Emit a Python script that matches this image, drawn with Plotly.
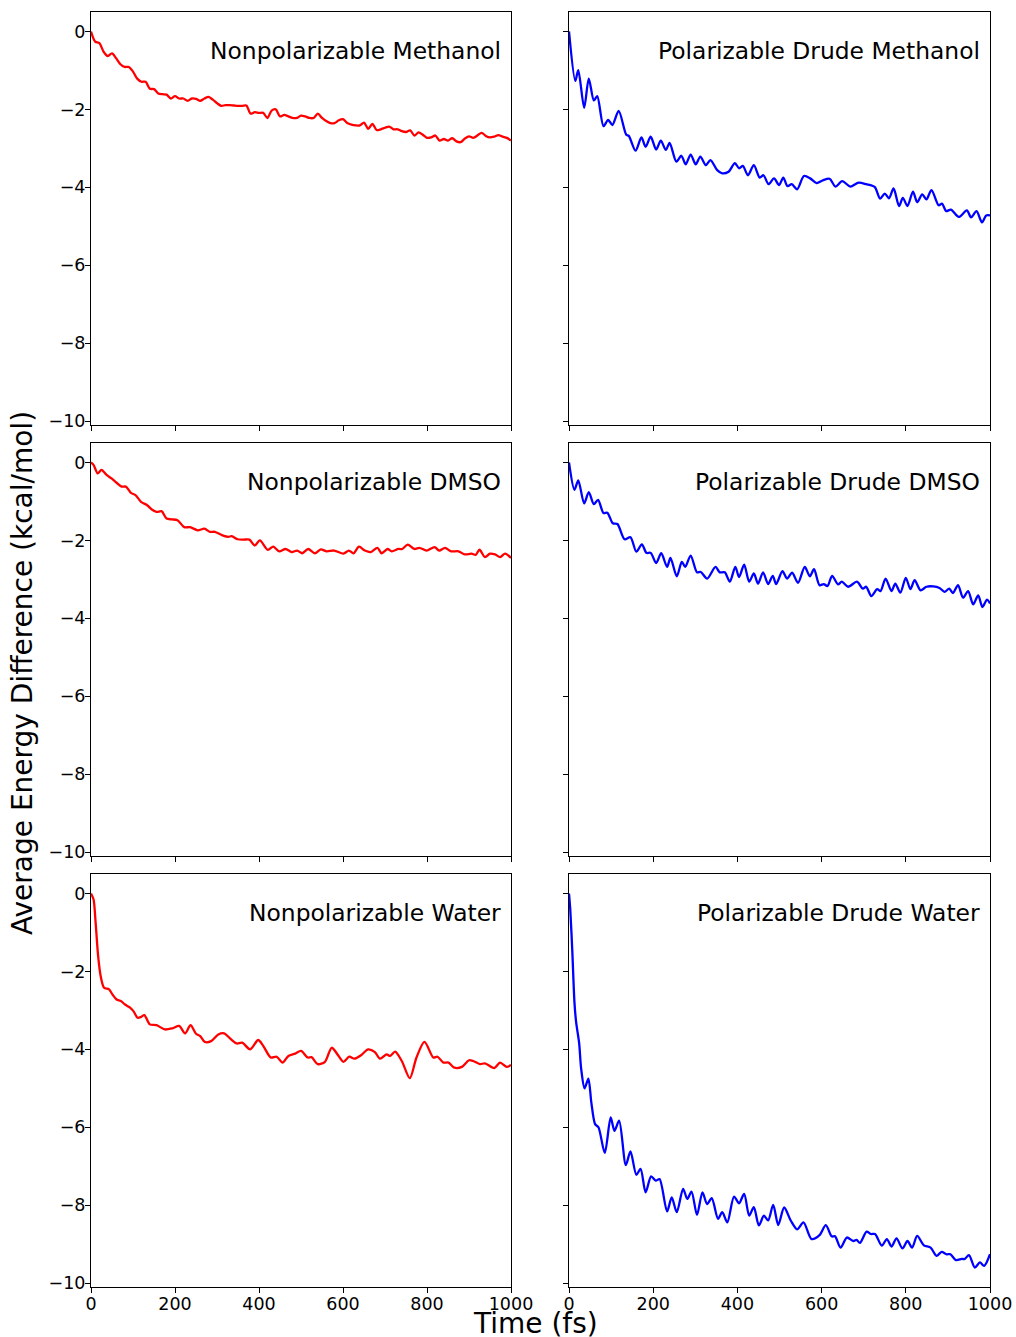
import plotly.graph_objects as go

# ---------------- data ----------------
t_np_meoh = list(range(0, 1001, 10))
e_np_meoh = [0, -0.26, -0.30, -0.52, -0.63, -0.56, -0.69, -0.84, -0.91, -0.91,
             -1.03, -1.21, -1.29, -1.29, -1.47, -1.48, -1.59, -1.61, -1.62, -1.72,
             -1.66, -1.72, -1.72, -1.78, -1.72, -1.73, -1.78, -1.72, -1.68, -1.75,
             -1.84, -1.91, -1.89, -1.89, -1.90, -1.91, -1.91, -1.90, -2.11, -2.07,
             -2.09, -2.09, -2.22, -2.03, -2.00, -2.18, -2.14, -2.18, -2.22, -2.22,
             -2.16, -2.18, -2.22, -2.22, -2.11, -2.22, -2.30, -2.35, -2.35, -2.28,
             -2.25, -2.35, -2.39, -2.41, -2.41, -2.34, -2.50, -2.37, -2.53, -2.51,
             -2.47, -2.44, -2.51, -2.51, -2.56, -2.58, -2.54, -2.67, -2.59, -2.65,
             -2.73, -2.72, -2.67, -2.80, -2.76, -2.80, -2.74, -2.82, -2.84, -2.75,
             -2.69, -2.73, -2.67, -2.60, -2.68, -2.72, -2.70, -2.66, -2.70, -2.73, -2.80]

t_pd_meoh = [0, 15, 22, 36, 47, 59, 67, 82, 93, 103, 118, 136, 142, 158, 172, 182, 194, 207,
             218, 230, 239, 255, 267, 277, 289, 301, 312, 325, 336, 352, 364, 379, 394, 404,
             413, 425, 439, 453, 462, 474, 487, 499, 509, 519, 529, 542, 558, 573, 588, 603,
             619, 633, 649, 668, 688, 706, 726, 739, 750, 760, 771, 784, 793, 804, 817, 827,
             839, 849, 861, 878, 886, 896, 907, 926, 945, 955, 968, 981, 991, 1000]
e_pd_meoh = [0, -1.27, -0.99, -1.96, -1.21, -1.77, -1.66, -2.43, -2.27, -2.40, -2.04, -2.65,
             -2.68, -3.06, -2.72, -2.96, -2.70, -3.03, -2.80, -3.04, -2.86, -3.34, -3.19, -3.41,
             -3.16, -3.41, -3.21, -3.43, -3.30, -3.56, -3.64, -3.60, -3.38, -3.51, -3.45, -3.69,
             -3.43, -3.75, -3.69, -3.92, -3.77, -3.94, -3.75, -3.97, -3.92, -4.05, -3.71, -3.77,
             -3.89, -3.82, -3.78, -3.98, -3.84, -3.98, -3.88, -3.92, -3.99, -4.29, -4.16, -4.28,
             -4.03, -4.48, -4.27, -4.48, -4.11, -4.38, -4.18, -4.31, -4.07, -4.46, -4.42, -4.61,
             -4.57, -4.76, -4.59, -4.77, -4.61, -4.90, -4.72, -4.72]

t_np_dmso = [0, 6, 16, 25, 37, 49, 61, 73, 83, 95, 106, 119, 133, 144, 156, 168, 180, 192, 206,
             222, 236, 254, 270, 283, 295, 313, 327, 335, 349, 363, 377, 390, 402, 421, 434, 448,
             463, 478, 491, 503, 517, 533, 547, 561, 579, 601, 614, 625, 638, 652, 666, 682, 692,
             706, 716, 732, 741, 754, 770, 782, 799, 818, 829, 843, 857, 875, 890, 906, 916, 925,
             938, 950, 962, 974, 986, 1000]
e_np_dmso = [0, -0.06, -0.28, -0.19, -0.32, -0.41, -0.52, -0.62, -0.62, -0.78, -0.84, -1.01,
             -1.09, -1.20, -1.27, -1.25, -1.44, -1.46, -1.48, -1.66, -1.66, -1.74, -1.70, -1.78,
             -1.78, -1.87, -1.91, -1.89, -1.97, -1.98, -1.98, -2.13, -2.00, -2.24, -2.16, -2.28,
             -2.22, -2.30, -2.26, -2.33, -2.22, -2.33, -2.23, -2.28, -2.26, -2.34, -2.26, -2.33,
             -2.16, -2.26, -2.30, -2.19, -2.33, -2.22, -2.28, -2.22, -2.22, -2.11, -2.22, -2.19,
             -2.26, -2.17, -2.26, -2.19, -2.28, -2.28, -2.36, -2.34, -2.37, -2.24, -2.43, -2.34,
             -2.36, -2.43, -2.34, -2.45]

t_pd_dmso = [0, 13, 22, 36, 47, 59, 69, 82, 91, 104, 115, 132, 146, 160, 173, 184, 194, 207,
             219, 233, 241, 256, 268, 276, 289, 304, 313, 328, 348, 358, 370, 382, 395, 404, 416,
             428, 439, 449, 461, 473, 484, 492, 507, 518, 530, 544, 560, 572, 582, 595, 605, 614,
             625, 639, 648, 663, 684, 698, 706, 718, 732, 740, 752, 766, 775, 787, 800, 811, 821,
             835, 849, 865, 880, 892, 903, 912, 924, 936, 948, 960, 972, 982, 993, 1000]
e_pd_dmso = [0, -0.70, -0.46, -1.05, -0.76, -1.07, -0.96, -1.30, -1.29, -1.56, -1.58, -1.97,
             -1.92, -2.29, -2.10, -2.32, -2.32, -2.58, -2.33, -2.68, -2.45, -2.92, -2.55, -2.68,
             -2.39, -2.82, -2.81, -2.98, -2.68, -2.82, -2.82, -3.06, -2.68, -2.94, -2.62, -3.06,
             -2.85, -3.11, -2.82, -3.12, -2.91, -3.12, -2.79, -2.98, -2.83, -3.09, -2.68, -2.92,
             -2.74, -3.15, -3.12, -3.17, -2.91, -3.13, -3.06, -3.19, -3.06, -3.24, -3.19, -3.43,
             -3.25, -3.30, -2.98, -3.30, -3.11, -3.34, -2.96, -3.25, -3.02, -3.28, -3.19, -3.18,
             -3.22, -3.32, -3.24, -3.35, -3.15, -3.47, -3.30, -3.64, -3.41, -3.71, -3.52, -3.62]

t_np_water = [0, 6, 11, 17, 23, 31, 43, 51, 61, 71, 81, 93, 101, 111, 119, 127, 140, 156, 176,
              194, 210, 224, 237, 250, 260, 271, 286, 303, 317, 333, 347, 360, 379, 398, 410, 428,
              442, 456, 470, 486, 500, 516, 525, 540, 557, 573, 587, 601, 615, 627, 643, 660, 676,
              688, 704, 712, 724, 740, 759, 775, 794, 815, 825, 839, 851, 865, 883, 900, 910, 926,
              938, 960, 974, 990, 1000]
e_np_water = [0, -0.15, -0.75, -1.61, -2.12, -2.42, -2.46, -2.59, -2.72, -2.76, -2.85, -2.93,
              -3.02, -3.19, -3.17, -3.12, -3.36, -3.38, -3.49, -3.46, -3.40, -3.59, -3.38, -3.60,
              -3.66, -3.81, -3.79, -3.62, -3.59, -3.74, -3.85, -3.83, -4.00, -3.76, -3.91, -4.21,
              -4.19, -4.34, -4.17, -4.11, -4.04, -4.21, -4.20, -4.38, -4.32, -3.96, -4.13, -4.32,
              -4.19, -4.24, -4.15, -4.00, -4.07, -4.24, -4.13, -4.17, -4.06, -4.30, -4.74, -4.21,
              -3.81, -4.21, -4.19, -4.34, -4.34, -4.47, -4.45, -4.28, -4.30, -4.38, -4.36, -4.48,
              -4.34, -4.45, -4.40]

t_pd_water = [0, 3, 8, 13, 17, 24, 29, 37, 46, 53, 62, 70, 85, 99, 108, 119, 135, 146, 160, 170,
              182, 195, 206, 215, 233, 244, 256, 271, 281, 291, 304, 317, 328, 339, 354, 364, 376,
              392, 404, 416, 428, 439, 451, 463, 473, 485, 497, 511, 527, 542, 557, 576, 595, 610,
              624, 632, 645, 660, 675, 683, 691, 707, 717, 727, 743, 755, 766, 778, 792, 804, 815,
              827, 843, 859, 873, 885, 897, 906, 919, 933, 940, 950, 964, 976, 986, 1000]
e_pd_water = [0, -0.41, -1.52, -2.80, -3.31, -3.83, -4.51, -5.00, -4.75, -5.36, -5.92, -6.00,
              -6.66, -5.75, -6.09, -5.83, -6.97, -6.62, -7.22, -7.07, -7.67, -7.26, -7.37, -7.33,
              -8.16, -7.80, -8.18, -7.58, -7.84, -7.65, -8.25, -7.67, -7.97, -7.82, -8.35, -8.18,
              -8.44, -7.78, -7.95, -7.71, -8.27, -8.05, -8.52, -8.27, -8.39, -7.99, -8.51, -8.06,
              -8.40, -8.62, -8.44, -8.87, -8.77, -8.51, -8.80, -8.80, -9.09, -8.83, -8.92, -8.89,
              -8.97, -8.68, -8.74, -8.74, -9.04, -8.87, -9.06, -8.85, -9.11, -8.92, -9.09, -8.79,
              -9.03, -9.09, -9.30, -9.20, -9.26, -9.26, -9.41, -9.38, -9.38, -9.28, -9.60, -9.47,
              -9.56, -9.26]

panel_titles = ["Nonpolarizable Methanol", "Polarizable Drude Methanol",
                "Nonpolarizable DMSO", "Polarizable Drude DMSO",
                "Nonpolarizable Water", "Polarizable Drude Water"]
y_ticks = [0, -2, -4, -6, -8, -10]
x_ticks = [0, 200, 400, 600, 800, 1000]

series = [(t_np_meoh, e_np_meoh, "red"), (t_pd_meoh, e_pd_meoh, "blue"),
          (t_np_dmso, e_np_dmso, "red"), (t_pd_dmso, e_pd_dmso, "blue"),
          (t_np_water, e_np_water, "red"), (t_pd_water, e_pd_water, "blue")]

# ---------------- layout geometry ----------------
W, H = 1016, 1337
L, R, T, B = 91, 26, 12, 50
pw, ph = W - L - R, H - T - B
col_px = [(91, 511), (569, 990)]
row_px = [(12, 425), (443, 856), (874, 1287)]

def xdom(c):
    a, b = col_px[c]
    return [(a - L) / pw, (b - L) / pw]

def ydom(r):
    a, b = row_px[r]
    return [(H - B - b) / ph, (H - B - a) / ph]

FONT = "DejaVu Sans"
fig = go.Figure()
annotations = []
for i, (t, e, col) in enumerate(series):
    r, c = divmod(i, 2)
    n = i + 1
    xa = "x" if n == 1 else f"x{n}"
    ya = "y" if n == 1 else f"y{n}"
    fig.add_trace(go.Scatter(x=t, y=e, mode="lines",
                             line=dict(color=col, width=2.3, shape="spline", smoothing=0.8),
                             xaxis=xa, yaxis=ya, showlegend=False, hoverinfo="skip"))
    xkey = "xaxis" if n == 1 else f"xaxis{n}"
    ykey = "yaxis" if n == 1 else f"yaxis{n}"
    fig.layout[xkey] = dict(domain=xdom(c), anchor=ya, range=[0, 1000],
                            tickvals=x_ticks, showticklabels=(r == 2),
                            ticks="outside", ticklen=5, tickwidth=1.1, tickcolor="black",
                            ticklabelstandoff=-4,
                            showline=True, linecolor="black", linewidth=1.1, mirror=True,
                            showgrid=False, zeroline=False,
                            tickfont=dict(family=FONT, size=17.5, color="black"))
    fig.layout[ykey] = dict(domain=ydom(r), anchor=xa, range=[-10.1, 0.5],
                            tickvals=y_ticks, showticklabels=(c == 0),
                            ticks="outside", ticklen=5, tickwidth=1.1, tickcolor="black",
                            ticklabelstandoff=-4,
                            showline=True, linecolor="black", linewidth=1.1, mirror=True,
                            showgrid=False, zeroline=False,
                            tickfont=dict(family=FONT, size=17.5, color="black"))
    annotations.append(dict(text=panel_titles[i], x=980, y=-0.5, xref=xa, yref=ya,
                            xanchor="right", yanchor="middle", showarrow=False,
                            font=dict(family=FONT, size=23.4, color="black")))

annotations.append(dict(text="Average Energy Difference (kcal/mol)", textangle=-90,
                        x=(22 - L) / pw, y=(H - B - 673) / ph, xref="paper", yref="paper",
                        xanchor="center", yanchor="middle", showarrow=False,
                        font=dict(family=FONT, size=28, color="black")))
annotations.append(dict(text="Time (fs)", x=(535 - L) / pw, y=(H - B - 1323) / ph,
                        xref="paper", yref="paper", xanchor="center", yanchor="middle",
                        showarrow=False, font=dict(family=FONT, size=28, color="black")))

fig.update_layout(width=W, height=H, margin=dict(l=L, r=R, t=T, b=B, autoexpand=False),
                  paper_bgcolor="white", plot_bgcolor="white",
                  font=dict(family=FONT, color="black"),
                  annotations=annotations)
fig.write_html("out.html")
